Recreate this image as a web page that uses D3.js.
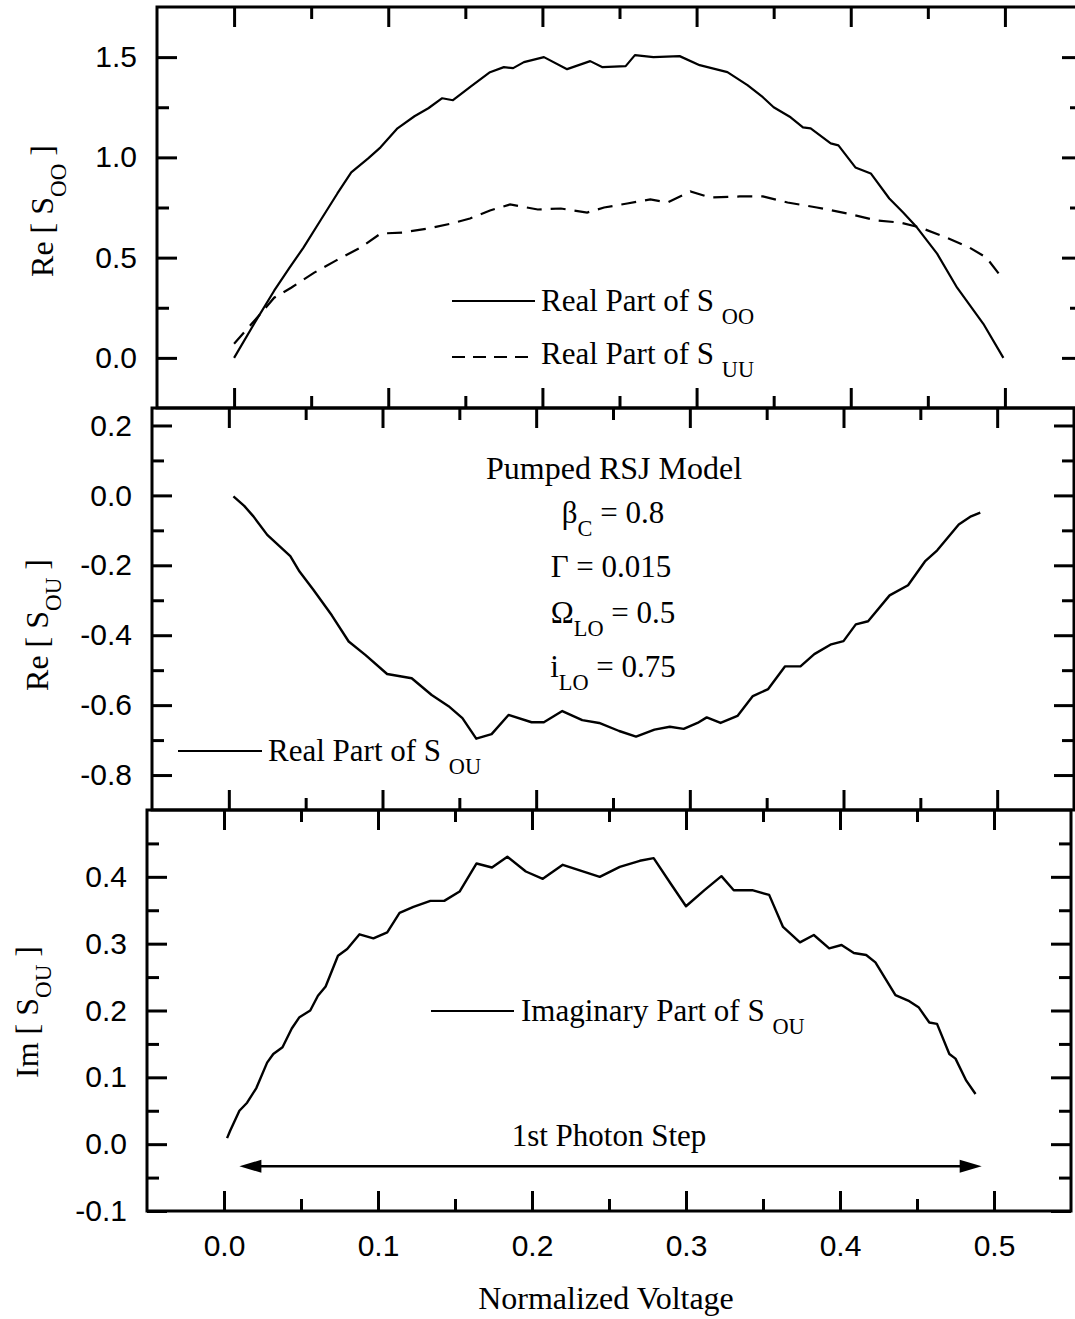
<!DOCTYPE html>
<html><head><meta charset="utf-8">
<script src="https://cdn.jsdelivr.net/npm/d3@7"></script>
<style>body{margin:0;background:#fff} svg{display:block}</style>
</head><body>
<svg id="c" width="1075" height="1319"></svg>
<script>
// ---------- data ----------
const sooV  = [0,0.013,0.026,0.036,0.045,0.056,0.067,0.076,0.087,0.095,0.106,0.117,0.126,0.135,0.142,0.153,0.166,0.175,0.181,0.188,0.201,0.216,0.231,0.239,0.254,0.260,0.272,0.289,0.302,0.320,0.333,0.343,0.350,0.361,0.369,0.374,0.387,0.392,0.403,0.413,0.425,0.434,0.443,0.456,0.469,0.486,0.499];
const sooRe = [0,0.17,0.335,0.45,0.55,0.685,0.82,0.925,0.995,1.05,1.145,1.205,1.245,1.295,1.285,1.35,1.425,1.45,1.445,1.475,1.5,1.44,1.48,1.45,1.455,1.51,1.5,1.505,1.46,1.425,1.36,1.30,1.25,1.2,1.15,1.145,1.07,1.06,0.95,0.92,0.795,0.725,0.65,0.52,0.35,0.17,0.0];

const suuV  = [0.0,0.016,0.026,0.037,0.052,0.066,0.082,0.095,0.109,0.126,0.141,0.153,0.166,0.179,0.197,0.212,0.229,0.240,0.255,0.270,0.281,0.296,0.309,0.328,0.343,0.359,0.378,0.398,0.417,0.432,0.445,0.462,0.477,0.488,0.497];
const suuRe = [0.07,0.21,0.30,0.35,0.425,0.485,0.55,0.62,0.625,0.645,0.67,0.695,0.735,0.765,0.74,0.745,0.725,0.75,0.77,0.79,0.775,0.83,0.80,0.805,0.805,0.775,0.75,0.72,0.685,0.675,0.65,0.6,0.55,0.5,0.41];

const souV  = [0.003,0.010,0.016,0.025,0.040,0.046,0.055,0.067,0.078,0.089,0.103,0.119,0.132,0.143,0.152,0.161,0.171,0.182,0.197,0.205,0.217,0.230,0.241,0.254,0.265,0.277,0.287,0.296,0.305,0.311,0.320,0.331,0.341,0.351,0.362,0.372,0.381,0.392,0.400,0.408,0.416,0.430,0.442,0.453,0.461,0.475,0.483,0.489];
const souRe = [-0.003,-0.03,-0.06,-0.113,-0.174,-0.218,-0.27,-0.343,-0.418,-0.457,-0.511,-0.523,-0.571,-0.603,-0.637,-0.696,-0.683,-0.628,-0.649,-0.649,-0.617,-0.643,-0.651,-0.674,-0.69,-0.67,-0.662,-0.668,-0.651,-0.635,-0.651,-0.631,-0.574,-0.554,-0.489,-0.489,-0.454,-0.426,-0.417,-0.369,-0.360,-0.286,-0.257,-0.189,-0.157,-0.083,-0.06,-0.049];

const souImV = [0.002,0.004,0.010,0.015,0.021,0.028,0.032,0.038,0.044,0.049,0.056,0.061,0.066,0.074,0.080,0.088,0.097,0.106,0.114,0.123,0.134,0.143,0.153,0.164,0.174,0.184,0.196,0.207,0.220,0.232,0.244,0.257,0.270,0.279,0.290,0.300,0.312,0.323,0.331,0.343,0.354,0.363,0.374,0.383,0.393,0.401,0.409,0.417,0.423,0.436,0.445,0.451,0.458,0.463,0.471,0.475,0.482,0.488];
const souIm  = [0.009,0.02,0.05,0.062,0.084,0.122,0.135,0.145,0.173,0.19,0.2,0.222,0.236,0.282,0.292,0.314,0.308,0.317,0.346,0.355,0.364,0.364,0.378,0.420,0.414,0.430,0.408,0.397,0.418,0.409,0.400,0.415,0.424,0.428,0.39,0.356,0.38,0.401,0.380,0.380,0.373,0.325,0.302,0.313,0.293,0.298,0.286,0.283,0.272,0.223,0.214,0.205,0.182,0.180,0.135,0.128,0.095,0.075];

const xDomain = [-0.05, 0.55];
const xMajor = [0, 0.1, 0.2, 0.3, 0.4, 0.5];
const xMinor = [0.05, 0.15, 0.25, 0.35, 0.45];
const xLabels = ["0.0", "0.1", "0.2", "0.3", "0.4", "0.5"];

const topYDomain = [-0.25, 1.75];
const topYMajor = [0, 0.5, 1.0, 1.5];
const topYMinor = [0.25, 0.75, 1.25];
const topYLabels = ["0.0", "0.5", "1.0", "1.5"];

const midYDomain = [-0.9, 0.25];
const midYMajor = [-0.8, -0.6, -0.4, -0.2, 0, 0.2];
const midYMinor = [-0.7, -0.5, -0.3, -0.1, 0.1];
const midYLabels = ["-0.8", "-0.6", "-0.4", "-0.2", "0.0", "0.2"];

const botYDomain = [-0.1, 0.5];
const botYMajor = [-0.1, 0, 0.1, 0.2, 0.3, 0.4];
const botYMinor = [-0.05, 0.05, 0.15, 0.25, 0.35, 0.45];
const botYLabels = ["-0.1", "0.0", "0.1", "0.2", "0.3", "0.4"];

const arrowV = [0.01, 0.492];
const arrowY = -0.033;

// ---------- drawing ----------
const svg = d3.select('#c');
const SANS = "'Liberation Sans', Arial, Helvetica, sans-serif";
const SERIF = "'Liberation Serif', 'Times New Roman', serif";
const MAJ = 20, MIN = 12;

function rich(g, x, y, parts, opts) {
  opts = opts || {};
  const size = opts.size || 31;
  const drop = opts.drop || 13;
  const t = g.append('text')
    .attr('font-family', SERIF).attr('font-size', size)
    .attr('text-anchor', opts.anchor || 'start')
    .attr('fill', '#000');
  if (opts.rotate) t.attr('transform', `translate(${x},${y}) rotate(-90)`);
  else t.attr('x', x).attr('y', y);
  let shift = 0;
  parts.forEach(p => {
    const s = t.append('tspan').text(p.t);
    if (p.sub) {
      s.attr('dy', drop - shift).attr('font-size', size * 0.72);
      shift = drop;
    } else {
      s.attr('dy', -shift);
      shift = 0;
    }
  });
  return t;
}

function panel(cfg) {
  const x = d3.scaleLinear().domain(xDomain).range([cfg.left, cfg.right]);
  const y = d3.scaleLinear().domain(cfg.yDomain).range([cfg.bottom, cfg.top]);
  const g = svg.append('g');

  function styleAxis(sel) {
    sel.select('.domain').remove();
    sel.selectAll('line').attr('stroke', '#000').attr('stroke-width', 3);
    sel.attr('font-family', SANS).attr('font-size', 30);
    sel.selectAll('text').attr('fill', '#000');
  }
  const labelMap = new Map(cfg.yMajor.map((v, i) => [v, cfg.yLabels[i]]));
  // left
  g.append('g').attr('transform', `translate(${cfg.left},0)`)
    .call(d3.axisLeft(y).tickValues(cfg.yMajor).tickSize(-MAJ).tickPadding(20).tickFormat(d => labelMap.get(d)))
    .call(styleAxis);
  g.append('g').attr('transform', `translate(${cfg.left},0)`)
    .call(d3.axisLeft(y).tickValues(cfg.yMinor).tickSize(-MIN).tickFormat(''))
    .call(styleAxis);
  // right
  g.append('g').attr('transform', `translate(${cfg.right},0)`)
    .call(d3.axisRight(y).tickValues(cfg.yMajor).tickSize(-MAJ).tickFormat(''))
    .call(styleAxis);
  g.append('g').attr('transform', `translate(${cfg.right},0)`)
    .call(d3.axisRight(y).tickValues(cfg.yMinor).tickSize(-MIN).tickFormat(''))
    .call(styleAxis);
  // top
  g.append('g').attr('transform', `translate(0,${cfg.top})`)
    .call(d3.axisTop(x).tickValues(xMajor).tickSize(-MAJ).tickFormat(''))
    .call(styleAxis);
  g.append('g').attr('transform', `translate(0,${cfg.top})`)
    .call(d3.axisTop(x).tickValues(xMinor).tickSize(-MIN).tickFormat(''))
    .call(styleAxis);
  // bottom
  const xl = new Map(xMajor.map((v, i) => [v, xLabels[i]]));
  g.append('g').attr('transform', `translate(0,${cfg.bottom})`)
    .call(d3.axisBottom(x).tickValues(xMajor).tickSize(-MAJ).tickPadding(24)
      .tickFormat(cfg.xLabels ? (d => xl.get(d)) : ''))
    .call(styleAxis);
  g.append('g').attr('transform', `translate(0,${cfg.bottom})`)
    .call(d3.axisBottom(x).tickValues(xMinor).tickSize(-MIN).tickFormat(''))
    .call(styleAxis);
  // frame
  g.append('rect').attr('x', cfg.left).attr('y', cfg.top)
    .attr('width', cfg.right - cfg.left).attr('height', cfg.bottom - cfg.top)
    .attr('fill', 'none').attr('stroke', '#000').attr('stroke-width', 3);
  return { x, y, g };
}

const line = (x, y) => d3.line().x(d => x(d[0])).y(d => y(d[1]));

// ---- top panel ----
const P1 = panel({ left: 157, right: 1082, top: 7, bottom: 408, yDomain: topYDomain, yMajor: topYMajor, yMinor: topYMinor, yLabels: topYLabels });
P1.g.append('path').datum(d3.zip(sooV, sooRe)).attr('d', line(P1.x, P1.y))
  .attr('fill', 'none').attr('stroke', '#000').attr('stroke-width', 2.2).attr('stroke-linejoin', 'round');
P1.g.append('path').datum(d3.zip(suuV, suuRe)).attr('d', line(P1.x, P1.y))
  .attr('fill', 'none').attr('stroke', '#000').attr('stroke-width', 2.2).attr('stroke-dasharray', '15,9');
// legend
svg.append('line').attr('x1', 452).attr('x2', 535).attr('y1', 301).attr('y2', 301).attr('stroke', '#000').attr('stroke-width', 2.2);
svg.append('line').attr('x1', 452).attr('x2', 532).attr('y1', 357).attr('y2', 357).attr('stroke', '#000').attr('stroke-width', 2.2).attr('stroke-dasharray', '13,8');
rich(svg, 541, 311, [{ t: 'Real Part of S ' }, { t: 'OO', sub: true }]);
rich(svg, 541, 364, [{ t: 'Real Part of S ' }, { t: 'UU', sub: true }]);
rich(svg, 53, 211, [{ t: 'Re [ S' }, { t: 'OO', sub: true }, { t: ' ]' }], { anchor: 'middle', rotate: true, size: 32 });

// ---- middle panel ----
const P2 = panel({ left: 152, right: 1074, top: 408, bottom: 810, yDomain: midYDomain, yMajor: midYMajor, yMinor: midYMinor, yLabels: midYLabels });
P2.g.append('path').datum(d3.zip(souV, souRe)).attr('d', line(P2.x, P2.y))
  .attr('fill', 'none').attr('stroke', '#000').attr('stroke-width', 2.4).attr('stroke-linejoin', 'round');
svg.append('line').attr('x1', 178).attr('x2', 262).attr('y1', 751).attr('y2', 751).attr('stroke', '#000').attr('stroke-width', 2.2);
rich(svg, 268, 761, [{ t: 'Real Part of S ' }, { t: 'OU', sub: true }]);
rich(svg, 48, 625, [{ t: 'Re [ S' }, { t: 'OU', sub: true }, { t: ' ]' }], { anchor: 'middle', rotate: true, size: 32 });
rich(svg, 614, 479, [{ t: 'Pumped RSJ Model' }], { anchor: 'middle', size: 32 });
rich(svg, 613, 523, [{ t: 'β' }, { t: 'C', sub: true }, { t: ' = 0.8' }], { anchor: 'middle' });
rich(svg, 611, 577, [{ t: 'Γ = 0.015' }], { anchor: 'middle' });
rich(svg, 613, 623, [{ t: 'Ω' }, { t: 'LO', sub: true }, { t: ' = 0.5' }], { anchor: 'middle' });
rich(svg, 613, 677, [{ t: 'i' }, { t: 'LO', sub: true }, { t: ' = 0.75' }], { anchor: 'middle' });

// ---- bottom panel ----
const P3 = panel({ left: 147, right: 1071, top: 810, bottom: 1211, yDomain: botYDomain, yMajor: botYMajor, yMinor: botYMinor, yLabels: botYLabels, xLabels: true });
P3.g.append('path').datum(d3.zip(souImV, souIm)).attr('d', line(P3.x, P3.y))
  .attr('fill', 'none').attr('stroke', '#000').attr('stroke-width', 2.4).attr('stroke-linejoin', 'round');
svg.append('line').attr('x1', 431).attr('x2', 514).attr('y1', 1011).attr('y2', 1011).attr('stroke', '#000').attr('stroke-width', 2.2);
rich(svg, 521, 1021, [{ t: 'Imaginary Part of S ' }, { t: 'OU', sub: true }]);
rich(svg, 38, 1012, [{ t: 'Im [ S' }, { t: 'OU', sub: true }, { t: ' ]' }], { anchor: 'middle', rotate: true, size: 32 });
// arrow
const ay = P3.y(arrowY), ax0 = P3.x(arrowV[0]), ax1 = P3.x(arrowV[1]);
svg.append('line').attr('x1', ax0 + 10).attr('x2', ax1 - 10).attr('y1', ay).attr('y2', ay).attr('stroke', '#000').attr('stroke-width', 2.4);
svg.append('path').attr('d', `M${ax0},${ay} L${ax0 + 22},${ay - 6.5} L${ax0 + 22},${ay + 6.5} Z`).attr('fill', '#000');
svg.append('path').attr('d', `M${ax1},${ay} L${ax1 - 22},${ay - 6.5} L${ax1 - 22},${ay + 6.5} Z`).attr('fill', '#000');
rich(svg, 609, 1146, [{ t: '1st Photon Step' }], { anchor: 'middle' });
rich(svg, 606, 1309, [{ t: 'Normalized Voltage' }], { anchor: 'middle', size: 32 });
</script>
</body></html>
